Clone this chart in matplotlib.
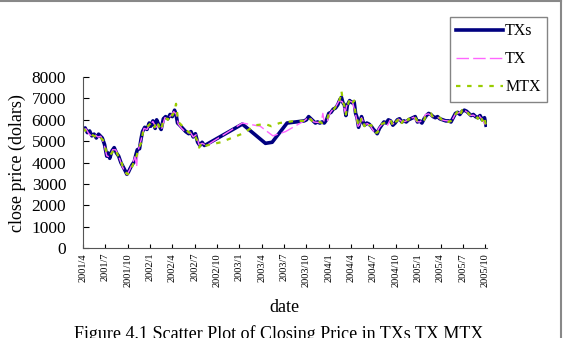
import matplotlib.pyplot as plt
from matplotlib.lines import Line2D

plt.rcParams['font.family'] = ['Liberation Serif', 'DejaVu Serif']

# month index: 0 = 2001/4
tick_labels = ['2001/4', '2001/7', '2001/10', '2002/1', '2002/4', '2002/7', '2002/10',
               '2003/1', '2003/4', '2003/7', '2003/10', '2004/1', '2004/4', '2004/7',
               '2004/10', '2005/1', '2005/4', '2005/7', '2005/10']
tick_pos = [3 * i for i in range(len(tick_labels))]

# TXs (spot index)
txs_m = [0.0, 0.3, 0.6, 0.9, 1.2, 1.5, 1.8, 2.1, 2.4, 2.6, 2.9, 3.2, 3.4, 3.6, 3.9, 4.2,
         4.5, 4.8, 5.1, 5.4, 5.7, 5.9, 6.1, 6.3, 6.6, 6.9, 7.1, 7.3, 7.6, 7.8, 8.0, 8.3,
         8.6, 8.9, 9.1, 9.4, 9.7, 9.9, 10.2, 10.5, 10.8, 11.1, 11.4, 11.7, 12.0, 12.3,
         12.5, 12.7, 13.0, 13.4, 13.8, 14.2, 14.5, 14.8, 15.1, 15.4, 15.7, 16.0, 16.3,
         16.6, 21.4, 24.5, 25.4, 27.4, 29.7,
         30.0, 30.3, 30.6, 30.9, 31.2, 31.5, 31.8, 32.1, 32.4, 32.7, 33.0, 33.3, 33.6,
         33.9, 34.2, 34.5, 34.7, 34.9, 35.1, 35.3, 35.5, 35.8, 36.1, 36.4, 36.6, 36.8,
         37.0, 37.2, 37.4, 37.6, 37.8, 38.1, 38.4, 38.7, 39.0, 39.3, 39.5, 39.8, 40.1,
         40.4, 40.7, 41.0, 41.3, 41.6, 41.9, 42.2, 42.5, 42.8, 43.1, 43.4, 43.7, 44.0,
         44.3, 44.6, 44.9, 45.2, 45.5, 45.8, 46.1, 46.4, 46.7, 47.0, 47.3, 47.6, 47.9,
         48.3, 48.7, 49.1, 49.4, 49.7, 50.0, 50.3, 50.6, 50.9, 51.2, 51.5, 51.8, 52.1,
         52.4, 52.7, 53.0, 53.3, 53.6, 53.9, 54.1]
txs_v = [5550, 5620, 5400, 5480, 5250, 5330, 5150, 5330, 5220, 5150, 4850, 4300, 4450,
         4200, 4550, 4700, 4450, 4300, 4000, 3800, 3600, 3450, 3550, 3700, 3900, 4050,
         4350, 4600, 4650, 5100, 5450, 5650, 5550, 5850, 5700, 5950, 5600, 6000, 5750,
         5550, 6050, 6150, 6050, 6250, 6150, 6450, 6250, 5850, 5750, 5600, 5450, 5350,
         5450, 5200, 5350, 4950, 4800, 4950, 4800, 4850, 5800, 4900, 4950, 5850, 5950,
         6000, 6150, 6050, 5950, 5850, 5900, 5850, 5900, 5850, 6000, 6300, 6350, 6500,
         6550, 6700, 6950, 7050, 6800, 6700, 6200, 6700, 6900, 6800, 6850, 6300, 6100,
         5650, 5900, 6150, 5900, 5750, 5850, 5800, 5700, 5550, 5450, 5350, 5600, 5750,
         5900, 5850, 6000, 5950, 5750, 5850, 6000, 6050, 5900, 5950, 5900, 6000, 6050,
         6100, 6150, 5900, 5950, 5850, 6050, 6200, 6300, 6250, 6150, 6100, 6150, 6050,
         6000, 5950, 5950, 5900, 6100, 6300, 6350, 6250, 6400, 6450, 6400, 6300, 6200,
         6250, 6150, 6100, 6200, 6000, 6100, 5750]

# TX (futures)
tx_m = [0.0, 0.4, 0.8, 1.2, 1.6, 2.0, 2.4, 2.8, 3.2, 3.6, 4.0, 4.4, 4.8, 5.2, 5.6, 5.9,
        6.3, 6.7, 7.0, 7.2, 7.4, 7.8, 8.2, 8.6, 9.0, 9.4, 9.8, 10.2, 10.6, 11.0, 11.4,
        11.8, 12.2, 12.5, 12.8, 13.2, 13.6, 14.0, 14.4, 14.8, 15.2, 15.6, 16.0, 16.6,
        21.4, 23.8, 25.5, 27.2, 29.7,
        30.2, 30.6, 31.0, 31.4, 31.8, 32.0, 32.2, 32.4, 32.8, 33.2, 33.6, 34.0, 34.4,
        34.8, 35.2, 35.4, 35.8, 36.2, 36.6, 37.0, 37.4, 37.8, 38.2, 38.6, 39.0, 39.4,
        39.8, 40.2, 40.6, 40.9, 41.2, 41.6, 42.0, 42.4, 42.8, 43.2, 43.6, 44.0, 44.4,
        44.8, 45.2, 45.6, 46.0, 46.4, 46.8, 47.2, 47.6, 48.0, 48.5, 49.0, 49.5, 50.0,
        50.4, 50.8, 51.2, 51.6, 52.0, 52.4, 52.8, 53.2, 53.6, 54.0]
tx_v = [5500, 5580, 5350, 5230, 5300, 5200, 5230, 4900, 4320, 4250, 4600, 4600, 4300,
        3900, 3580, 3430, 3680, 4000, 4280, 3800, 4550, 5050, 5600, 5550, 5800, 5920,
        5650, 5780, 5600, 6100, 6080, 6200, 6380, 6280, 5800, 5620, 5480, 5380, 5420,
        5200, 5300, 4820, 4900, 4800, 5850, 5700, 5250, 5450, 5950,
        6100, 6050, 5900, 5880, 5870, 5900, 6300, 5880, 5950, 6330, 6520, 6650, 6900,
        6850, 6350, 6650, 6880, 6820, 6250, 5600, 6100, 5780, 5820, 5700, 5480, 5380,
        5650, 5800, 5900, 5750, 5980, 5800, 5980, 6030, 5920, 5920, 5980, 6070, 6120,
        5920, 5900, 6000, 6250, 6280, 6180, 6120, 6120, 6030, 5970, 5950, 5950, 6280,
        6320, 6380, 6450, 6350, 6200, 6220, 6130, 6180, 6020, 5780]

# MTX (mini futures)
mtx_m = [0.0, 0.3, 0.6, 0.9, 1.2, 1.5, 1.8, 2.1, 2.4, 2.7, 3.0, 3.3, 3.6, 3.9, 4.2, 4.5,
         4.8, 5.1, 5.4, 5.7, 6.0, 6.3, 6.6, 6.9, 7.2, 7.5, 7.8, 8.1, 8.4, 8.7, 9.0, 9.3,
         9.6, 9.9, 10.2, 10.5, 10.8, 11.1, 11.4, 11.7, 12.0, 12.3, 12.5, 12.8, 13.1,
         13.5, 13.9, 14.3, 14.7, 15.0, 15.3, 15.6, 15.9, 16.2, 16.6, 18.5, 21.4, 23.2,
         24.5, 25.3, 26.4, 28.5, 29.7,
         30.0, 30.3, 30.6, 30.9, 31.2, 31.5, 31.8, 32.1, 32.4, 32.7, 33.0, 33.3, 33.6,
         33.9, 34.2, 34.5, 34.7, 34.9, 35.1, 35.3, 35.5, 35.8, 36.1, 36.4, 36.6, 36.8,
         37.0, 37.2, 37.4, 37.6, 37.8, 38.1, 38.4, 38.7, 39.0, 39.3, 39.5, 39.8, 40.1,
         40.4, 40.7, 41.0, 41.3, 41.6, 41.9, 42.2, 42.5, 42.8, 43.1, 43.4, 43.7, 44.0,
         44.3, 44.6, 44.9, 45.2, 45.5, 45.8, 46.1, 46.4, 46.7, 47.0, 47.3, 47.6, 47.9,
         48.3, 48.7, 49.1, 49.4, 49.7, 50.0, 50.3, 50.6, 50.9, 51.2, 51.5, 51.8, 52.1,
         52.4, 52.7, 53.0, 53.3, 53.6, 53.9, 54.1]
mtx_v = [5600, 5500, 5450, 5400, 5300, 5250, 5200, 5280, 5150, 5050, 4700, 4350, 4350,
         4450, 4650, 4500, 4250, 4100, 3750, 3550, 3450, 3600, 3800, 4100, 4300, 4700,
         4900, 5500, 5600, 5700, 5800, 5900, 5650, 5950, 5700, 5500, 6000, 6100, 6000,
         6300, 6200, 6400, 6750, 5900, 5800, 5650, 5500, 5400, 5300, 5300, 5050, 4700,
         4900, 4750, 4800, 4950, 5350, 5750, 5800, 5700, 5850, 5950, 5950,
         6050, 6100, 6000, 5900, 5900, 5850, 5900, 5850, 5900, 5950, 6250, 6400, 6450,
         6600, 6650, 7000, 7350, 6850, 6650, 6250, 6650, 6950, 6750, 6900, 6250, 6050,
         5700, 5850, 6100, 5950, 5700, 5900, 5750, 5750, 5500, 5400, 5400, 5550, 5800,
         5850, 5900, 5950, 6000, 5700, 5900, 5950, 6100, 5850, 6000, 5850, 6050, 6000,
         6150, 6100, 5950, 5900, 5900, 6000, 6250, 6250, 6300, 6100, 6150, 6100, 6100,
         5950, 6000, 5900, 5950, 6050, 6250, 6400, 6200, 6450, 6400, 6450, 6250, 6250,
         6200, 6200, 6050, 6250, 5950, 6150, 5700]

fig = plt.figure(figsize=(5.64, 3.38), dpi=100)
ax = fig.add_axes([0.147, 0.266, 0.716, 0.506])

ax.plot(txs_m, txs_v, color='#000080', linewidth=2.6, label='TXs')
ax.plot(tx_m, tx_v, color='#FF66FF', linewidth=1.0, dashes=(9, 3), label='TX')
ax.plot(mtx_m, mtx_v, color='#99CC00', linewidth=1.6, dashes=(2, 3), label='MTX')

ax.set_xlim(0, 54.2)
ax.set_ylim(0, 8000)
ax.set_yticks(range(0, 8001, 1000))
ax.set_xticks(tick_pos)
ax.set_xticklabels(tick_labels, rotation=90, fontsize=7.5)
ax.tick_params(axis='y', labelsize=12.5, direction='in', length=4, pad=12)
ax.tick_params(axis='x', direction='in', length=3)
for s in ['top', 'right']:
    ax.spines[s].set_visible(False)
for s in ['left', 'bottom']:
    ax.spines[s].set_color('#555555')

ax.set_ylabel('close price (dolars)', fontsize=13, labelpad=4)
ax.set_xlabel('date', fontsize=13, labelpad=9)

leg = ax.legend(loc='upper left', bbox_to_anchor=(0.798, 0.95), bbox_transform=fig.transFigure,
                borderaxespad=0, fontsize=11.5, frameon=True, fancybox=False,
                handlelength=2.9, labelspacing=0.75, borderpad=0.4, handletextpad=0.15)
leg.get_frame().set_edgecolor('#666666')
leg.get_frame().set_linewidth(1.0)

fig.text(0.495, -0.016, 'Figure 4.1 Scatter Plot of Closing Price in TXs TX MTX',
         ha='center', va='bottom', fontsize=13)

# outer frame lines (top and right)
fig.add_artist(Line2D([0, 0.995], [0.997, 0.997], color='#888888', linewidth=1.5,
                      transform=fig.transFigure))
fig.add_artist(Line2D([0.995, 0.995], [0.0, 0.997], color='#888888', linewidth=1.5,
                      transform=fig.transFigure))

fig.savefig('out.png', dpi=100)
